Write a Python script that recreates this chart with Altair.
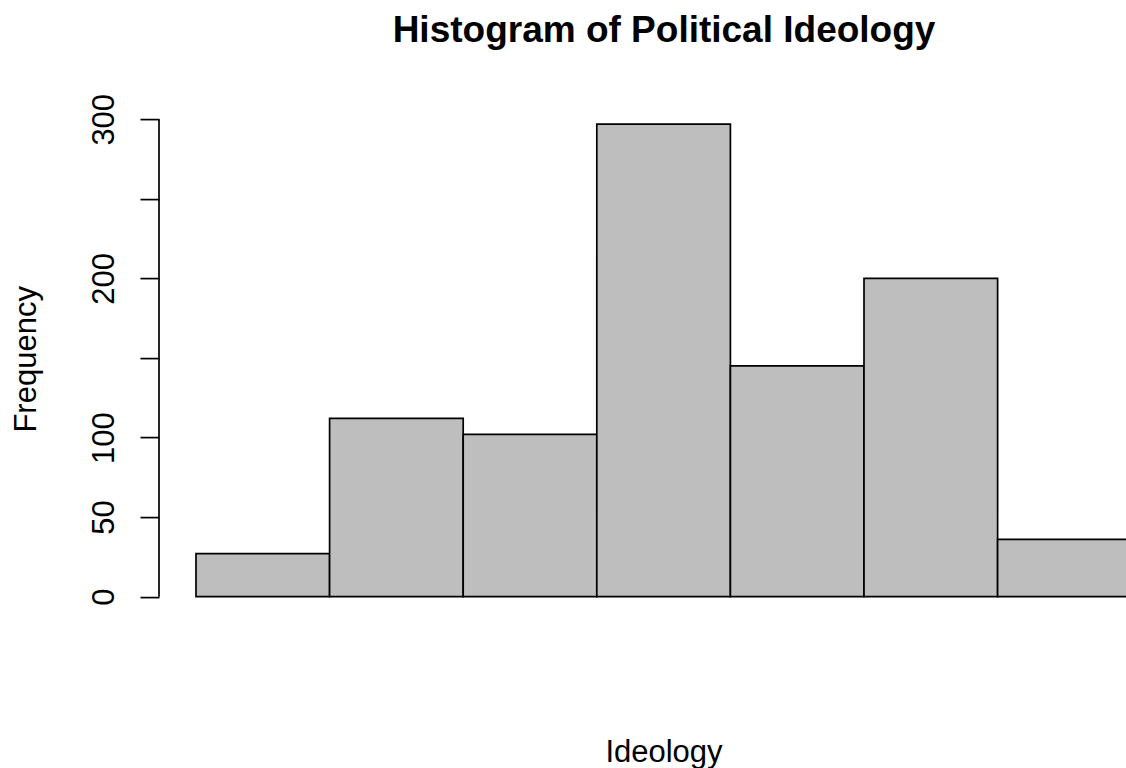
import altair as alt
import pandas as pd

# Histogram bins (ideology scale) and their counts
bin_start = [1, 2, 3, 4, 5, 6, 7]
bin_end = [2, 3, 4, 5, 6, 7, 8]
counts = [27, 112, 102, 297, 145, 200, 36]

# y-axis ticks; 150 and 250 carry a tick but no label
tick_values = [0, 50, 100, 150, 200, 250, 300]
shown_labels = [0, 50, 100, 200, 300]

bins = pd.DataFrame({"start": bin_start, "end": bin_end, "count": counts})
axis_span = pd.DataFrame({"lo": [tick_values[0]], "hi": [tick_values[-1]]})

FONT = "Liberation Sans"
LINE_W = 1.7
PLOT_W = 967
PLOT_H = 510.5

x_scale = alt.Scale(domain=[0.7231, 7.961], nice=False, zero=False)
y_scale = alt.Scale(domain=[-11.9, 308.9], nice=False, zero=False)

label_test = " || ".join(f"datum.value == {v}" for v in shown_labels)

bars = alt.Chart(bins).mark_rect(
    fill="#BEBEBE", stroke="black", strokeWidth=LINE_W, clip=True
).encode(
    x=alt.X("start:Q", scale=x_scale, axis=None),
    x2="end:Q",
    y=alt.Y(
        "count:Q",
        scale=y_scale,
        axis=alt.Axis(
            values=tick_values,
            labelExpr=f"({label_test}) ? datum.label : ''",
            domain=False,
            grid=False,
            ticks=True,
            tickSize=19,
            tickWidth=LINE_W,
            tickColor="black",
            labelAngle=270,
            labelAlign="center",
            labelBaseline="alphabetic",
            labelPadding=27,
            labelFont=FONT,
            labelFontSize=31,
            labelColor="black",
            labelOverlap=False,
            labelFlush=False,
            title="Frequency",
            titleFont=FONT,
            titleFontSize=31,
            titleFontWeight="normal",
            titleColor="black",
            titleAngle=270,
            titleAlign="center",
            titleBaseline="alphabetic",
            titleX=-124,
            titleY=PLOT_H / 2 - 1.5,
        ),
    ),
    y2=alt.datum(0),
)

# y-axis line spanning only the tick range
axis_line = alt.Chart(axis_span).mark_rule(color="black", strokeWidth=LINE_W).encode(
    x=alt.value(0),
    y=alt.Y("lo:Q", scale=y_scale),
    y2="hi:Q",
)

title_text = alt.Chart(axis_span).mark_text(
    text="Histogram of Political Ideology",
    font=FONT,
    fontSize=37,
    fontWeight="bold",
    color="black",
    align="center",
    baseline="alphabetic",
).encode(x=alt.value(505), y=alt.value(-63))

x_title = alt.Chart(axis_span).mark_text(
    text="Ideology",
    font=FONT,
    fontSize=31,
    color="black",
    align="center",
    baseline="alphabetic",
).encode(x=alt.value(505), y=alt.value(657))

chart = alt.layer(bars, axis_line, title_text, x_title).properties(
    width=PLOT_W,
    height=PLOT_H,
    autosize=alt.AutoSizeParams(type="none"),
    padding={"left": 159, "top": 105.1, "right": 0, "bottom": 152.4},
    background="white",
).configure_view(stroke=None)

chart.save("out.html", embed_options={"renderer": "svg", "actions": False})
